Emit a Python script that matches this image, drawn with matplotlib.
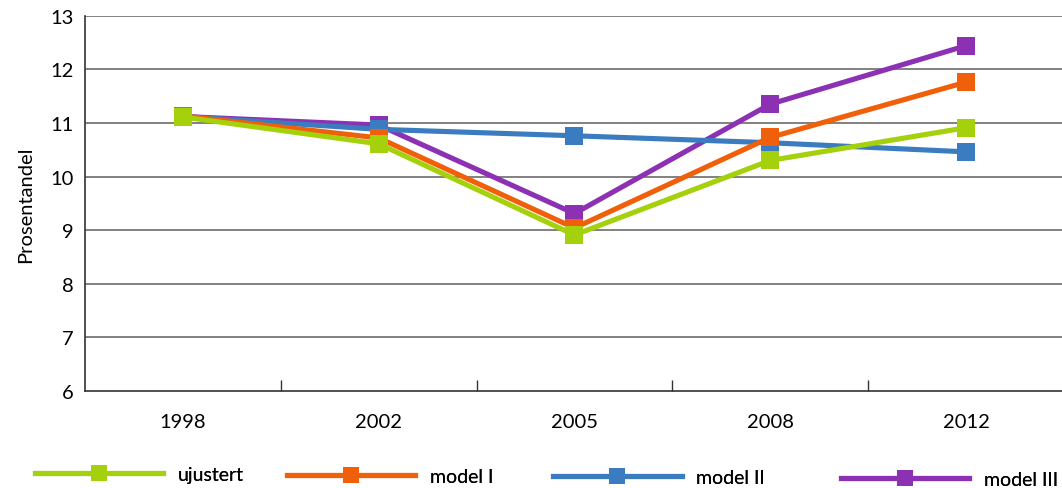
import matplotlib
matplotlib.use("Agg")
import matplotlib.pyplot as plt
from matplotlib.ticker import FixedLocator

plt.rcParams['font.family'] = ['Lato', 'DejaVu Sans']

years = ["1998", "2002", "2005", "2008", "2012"]
ujustert = [11.11, 10.61, 8.91, 10.30, 10.91]
model_1 = [11.13, 10.72, 9.04, 10.73, 11.76]
model_2 = [11.12, 10.88, 10.76, 10.63, 10.46]
model_3 = [11.12, 10.96, 9.31, 11.35, 12.44]

series = [
    ("ujustert", ujustert, "#a4d10c"),
    ("model I", model_1, "#f0600a"),
    ("model II", model_2, "#3a7cbf"),
    ("model III", model_3, "#8c30b4"),
]

fig = plt.figure(figsize=(10.62, 4.89), dpi=100)
ax = fig.add_axes([0.080, 0.1984, 0.92, 0.7675])

x = list(range(len(years)))
handles = []
# draw in reverse so the unadjusted series sits on top
for z, (name, vals, col) in enumerate(reversed(series)):
    h, = ax.plot(x, vals, color=col, lw=3.7, marker='s', ms=12.5,
                 markeredgewidth=0, zorder=3 + z, label=name,
                 solid_joinstyle='miter')
    handles.append(h)
handles = handles[::-1]

ax.set_xlim(-0.5, 4.49)
ax.set_ylim(6, 13)
ax.set_yticks(range(6, 14))
ax.set_xticks(x)
ax.set_xticklabels(years)
ax.xaxis.set_minor_locator(FixedLocator([0.5, 1.5, 2.5, 3.5]))
ax.tick_params(axis='x', which='major', length=0, pad=16, labelsize=14.5)
ax.tick_params(axis='x', which='minor', direction='in', length=8, width=1, color='#333333')
ax.tick_params(axis='y', length=0, pad=8, labelsize=14.5)

for yv in range(7, 14):
    ax.axhline(yv, color='#777777', lw=1.3, zorder=1)

for s in ['top', 'right']:
    ax.spines[s].set_visible(False)
for s in ['left', 'bottom']:
    ax.spines[s].set_color('#333333')
    ax.spines[s].set_linewidth(1.2)

ax.set_ylabel("Prosentandel", fontsize=14.5, labelpad=12)

# one legend entry per slot along the bottom
slots = [(0.033, 0.027), (0.270, 0.024), (0.521, 0.021), (0.792, 0.017)]
for h, (lx, ly) in zip(handles, slots):
    leg = fig.legend(handles=[h], loc='center left', bbox_to_anchor=(lx, ly),
                     frameon=False, handlelength=6.6, handletextpad=0.75,
                     borderpad=0, borderaxespad=0, fontsize=14, markerscale=0.95)
    fig.add_artist(leg)

fig.savefig("out.png", dpi=100)
